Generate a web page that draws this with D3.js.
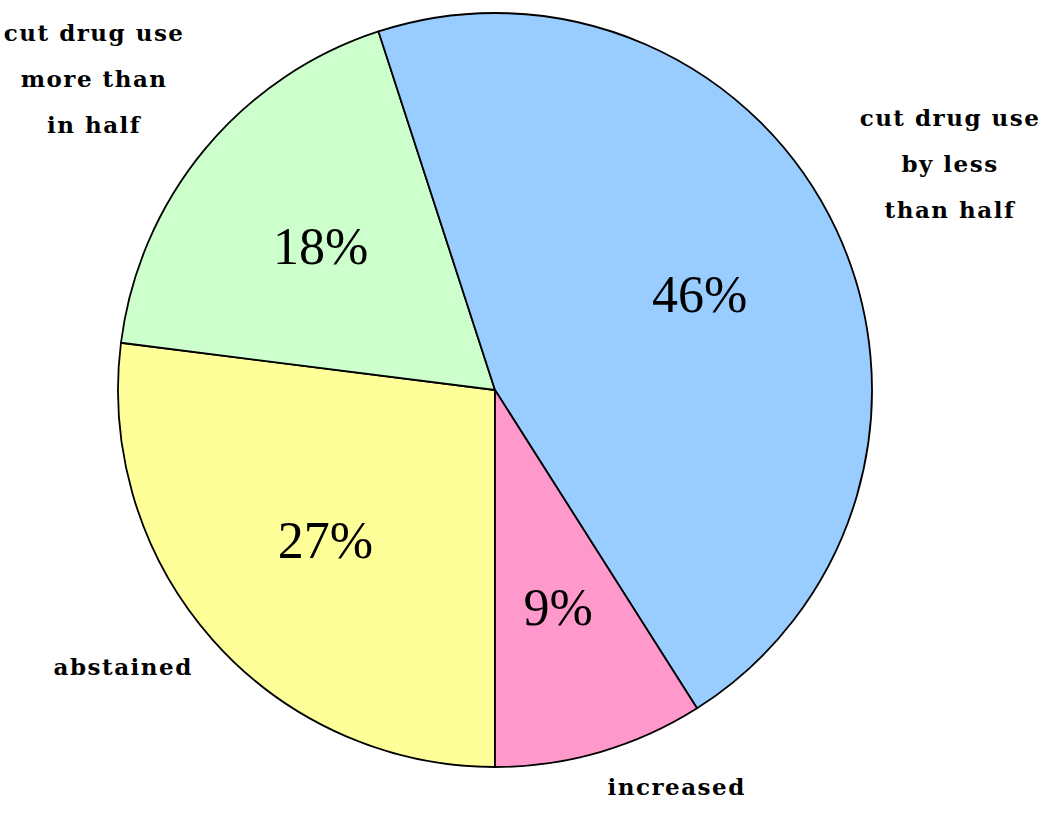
<!DOCTYPE html>
<html>
<head>
<meta charset="utf-8">
<script src="https://cdn.jsdelivr.net/npm/d3@7"></script>
<style>
	html, body { margin: 0; padding: 0; background: #fff; }
	.pct { font-family: 'Liberation Serif', 'Times New Roman', serif; font-size: 52px; }
	.cat { font-family: 'DejaVu Serif', serif; font-weight: bold; font-size: 23px; letter-spacing: 1.5px; }
</style>
</head>
<body>
<script>
(function() {
	'use strict';

	// DATA //

	var CATEGORIES = [ 'abstained', 'cut drug use more than in half', 'cut drug use by less than half', 'increased' ],
		LABEL_LINES = [
			[ 'abstained' ],
			[ 'cut drug use', 'more than', 'in half' ],
			[ 'cut drug use', 'by less', 'than half' ],
			[ 'increased' ]
		],
		VALUES = [ 27, 18, 46, 9 ],
		COLORS = [ '#FFFF99', '#CCFFCC', '#99CCFF', '#FF99CC' ];


	// VARIABLES //

	var WIDTH = 1054,
		HEIGHT = 821,
		CX = 495,
		CY = 390,
		RADIUS = 377,
		LABEL_GAP = 26,
		LINE_HEIGHT = 46,
		ASCENT = 18;

	var data,
		pie,
		arc,
		labelArc,
		canvas,
		graph,
		color;

	// Zip the arrays:
	data = CATEGORIES.map( function ( c, i ) {
		return { 'name': c, 'value': VALUES[ i ], 'lines': LABEL_LINES[ i ] };
	});

	// First slice starts at six o'clock, going clockwise:
	pie = d3.pie()
		.sort( null )
		.value( function ( d ) { return d.value; } )
		.startAngle( Math.PI )
		.endAngle( 3 * Math.PI );

	arc = d3.arc()
		.innerRadius( 0 )
		.outerRadius( RADIUS );

	labelArc = d3.arc()
		.innerRadius( RADIUS * 0.6 )
		.outerRadius( RADIUS * 0.6 );

	color = d3.scaleOrdinal()
		.domain( CATEGORIES )
		.range( COLORS );

	// Append a SVG canvas:
	canvas = d3.select( 'body' ).append( 'svg' )
		.attr( 'width', WIDTH )
		.attr( 'height', HEIGHT );

	graph = canvas.append( 'g' )
		.attr( 'transform', 'translate(' + CX + ',' + CY + ')' );

	// Slices:
	graph.selectAll( 'path.slice' )
		.data( pie( data ) )
	  .enter().append( 'path' )
		.attr( 'class', 'slice' )
		.attr( 'd', arc )
		.attr( 'fill', function ( d ) { return color( d.data.name ); } )
		.attr( 'stroke', '#000' )
		.attr( 'stroke-width', 1.8 )
		.attr( 'stroke-linejoin', 'round' );

	// Percent labels:
	graph.selectAll( 'text.pct' )
		.data( pie( data ) )
	  .enter().append( 'text' )
		.attr( 'class', 'pct' )
		.attr( 'transform', function ( d ) {
			return 'translate(' + labelArc.centroid( d ) + ')';
		})
		.attr( 'text-anchor', 'middle' )
		.attr( 'dy', '0.35em' )
		.text( function ( d ) { return d.data.value + '%'; } );

	// Category labels, nearest box corner on the mid angle just outside the rim:
	pie( data ).forEach( function ( d ) {
		var mid = ( d.startAngle + d.endAngle ) / 2,
			sx = Math.sin( mid ),
			sy = -Math.cos( mid ),
			px = sx * ( RADIUS + LABEL_GAP ),
			py = sy * ( RADIUS + LABEL_GAP ),
			g, text, w, h, left, top;

		g = graph.append( 'g' );
		text = g.append( 'text' )
			.attr( 'class', 'cat' )
			.attr( 'text-anchor', 'middle' );
		d.data.lines.forEach( function ( line, i ) {
			text.append( 'tspan' )
				.attr( 'x', 0 )
				.attr( 'y', i * LINE_HEIGHT )
				.text( line );
		});

		// Box size, ascender top to last baseline:
		w = d3.max( text.selectAll( 'tspan' ).nodes(), function ( n ) {
			return n.getComputedTextLength();
		});
		h = ( d.data.lines.length - 1 ) * LINE_HEIGHT + ASCENT;

		left = sx >= 0 ? px : px - w;
		top = sy < 0 ? py - h : py;

		g.attr( 'transform', 'translate(' + ( left + w / 2 ) + ',' + ( top + ASCENT ) + ')' );
	});

})();
</script>
</body>
</html>
